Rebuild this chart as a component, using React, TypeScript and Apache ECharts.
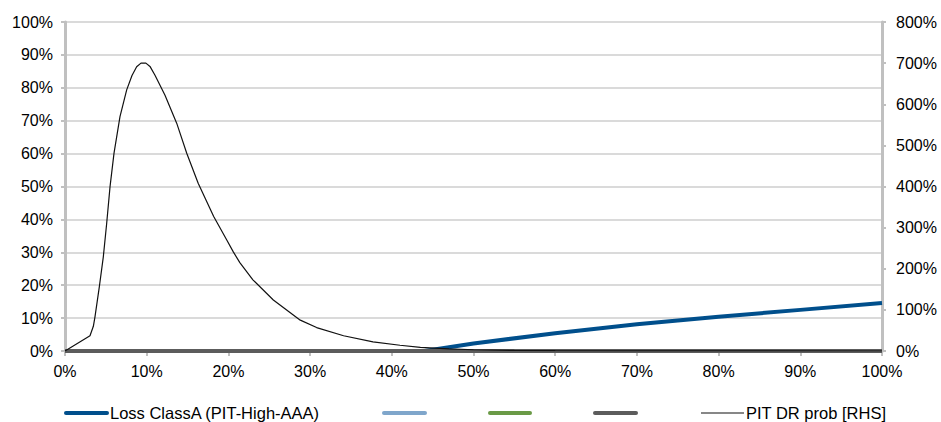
import React, { useEffect, useRef } from 'react';
import * as echarts from 'echarts';

// x axis: tranche loss / default scenario (%)
const xTickValues = [0, 10, 20, 30, 40, 50, 60, 70, 80, 90, 100];

// Loss ClassA (PIT-High-AAA) on left axis (%)
const lossX = [0, 44, 50, 60, 70, 80, 90, 100];
const lossY = [0, 0, 2.3, 5.4, 8.1, 10.4, 12.5, 14.6];

// Three series that stay at zero (legend entries without names)
const zeroX = [0, 100];
const zeroY = [0, 0];

// PIT DR prob [RHS] (%)
const pitX = [0, 3.06, 3.47, 3.67, 4.2, 4.69, 5.1, 5.51, 6.0, 6.73, 7.55, 8.2, 8.77, 9.3, 9.9, 10.4, 11.0, 12.24, 13.67, 14.9, 16.3, 18.2, 19.8, 20.6, 21.4, 23.0, 25.5, 28.8, 30.8, 34.1, 37.7, 41.0, 43.5, 47, 50, 55, 60, 70, 80, 100];
const pitY = [0, 37, 60, 83, 156, 229, 310, 399, 481, 570, 635, 670, 691, 700, 700, 692, 671, 622, 554, 481, 408, 327, 270, 241, 215, 173, 124, 75, 57, 37, 22, 14, 9, 5, 3, 1.5, 0.7, 0.2, 0.1, 0];

const leftMax = 100;
const rightMax = 800;

const zip = (xs: number[], ys: number[]) => xs.map((x, i) => [x, ys[i]]);

const FONT = 'Liberation Sans, Arial, Helvetica, sans-serif';

export default function App() {
  const ref = useRef<HTMLDivElement>(null);

  useEffect(() => {
    document.body.style.margin = '0';
    if (!ref.current) return;
    const chart = echarts.init(ref.current, undefined, { renderer: 'svg' });
    const gray = '#c0c0c0';
    const labelStyle = { color: '#000', fontSize: 16, fontFamily: FONT };
    chart.setOption({
      animation: false,
      backgroundColor: '#fff',
      grid: { left: 65, right: 59, top: 22, bottom: 71, containLabel: false },
      xAxis: {
        type: 'value',
        min: xTickValues[0],
        max: xTickValues[xTickValues.length - 1],
        interval: 10,
        axisLine: { show: true, lineStyle: { color: gray, width: 2 } },
        axisTick: { show: true, length: 5, lineStyle: { color: gray, width: 2 } },
        axisLabel: { ...labelStyle, margin: 12, formatter: '{value}%' },
        splitLine: { show: false },
      },
      yAxis: [
        {
          type: 'value',
          min: 0,
          max: leftMax,
          interval: 10,
          axisLine: { show: true, lineStyle: { color: gray, width: 3 } },
          axisTick: { show: true, length: 4, lineStyle: { color: gray, width: 2 } },
          axisLabel: { ...labelStyle, margin: 12, formatter: '{value}%' },
          splitLine: { show: true, lineStyle: { color: '#dadada', width: 2 } },
        },
        {
          type: 'value',
          min: 0,
          max: rightMax,
          interval: 100,
          position: 'right',
          axisLine: { show: true, lineStyle: { color: gray, width: 3 } },
          axisTick: { show: true, length: 4, lineStyle: { color: gray, width: 2 } },
          axisLabel: { ...labelStyle, margin: 14, formatter: '{value}%' },
          splitLine: { show: false },
        },
      ],
      series: [
        {
          name: 'Loss ClassA (PIT-High-AAA)',
          type: 'line',
          yAxisIndex: 0,
          data: zip(lossX, lossY),
          symbol: 'none',
          lineStyle: { color: '#004F8C', width: 4 },
          z: 2,
        },
        {
          name: 's2',
          type: 'line',
          yAxisIndex: 0,
          data: zip(zeroX, zeroY),
          symbol: 'none',
          lineStyle: { color: '#7FA6CB', width: 4 },
          z: 3,
        },
        {
          name: 's3',
          type: 'line',
          yAxisIndex: 0,
          data: zip(zeroX, zeroY),
          symbol: 'none',
          lineStyle: { color: '#6A9A46', width: 4 },
          z: 4,
        },
        {
          name: 's4',
          type: 'line',
          yAxisIndex: 0,
          data: zip(zeroX, zeroY),
          symbol: 'none',
          lineStyle: { color: '#5C5C5C', width: 4 },
          z: 5,
        },
        {
          name: 'PIT DR prob [RHS]',
          type: 'line',
          yAxisIndex: 1,
          data: zip(pitX, pitY),
          symbol: 'none',
          lineStyle: { color: '#111', width: 1.2 },
          z: 6,
        },
      ],
      graphic: [
        { type: 'line', shape: { x1: 66, y1: 413, x2: 107, y2: 413 }, style: { stroke: '#004F8C', lineWidth: 4, lineCap: 'round' } },
        { type: 'text', x: 110, y: 413, style: { text: 'Loss ClassA (PIT-High-AAA)', fill: '#000', fontSize: 16.5, fontFamily: FONT, verticalAlign: 'middle', align: 'left' } },
        { type: 'line', shape: { x1: 384, y1: 413, x2: 425, y2: 413 }, style: { stroke: '#7FA6CB', lineWidth: 4, lineCap: 'round' } },
        { type: 'line', shape: { x1: 490, y1: 413, x2: 530, y2: 413 }, style: { stroke: '#6A9A46', lineWidth: 4, lineCap: 'round' } },
        { type: 'line', shape: { x1: 595, y1: 413, x2: 636, y2: 413 }, style: { stroke: '#5C5C5C', lineWidth: 4, lineCap: 'round' } },
        { type: 'line', shape: { x1: 701, y1: 413, x2: 744, y2: 413 }, style: { stroke: '#111', lineWidth: 1.2 } },
        { type: 'text', x: 746, y: 413, style: { text: 'PIT DR prob [RHS]', fill: '#000', fontSize: 16.5, fontFamily: FONT, verticalAlign: 'middle', align: 'left' } },
      ],
    });
    return () => chart.dispose();
  }, []);

  return <div ref={ref} style={{ width: 941, height: 422 }} />;
}
